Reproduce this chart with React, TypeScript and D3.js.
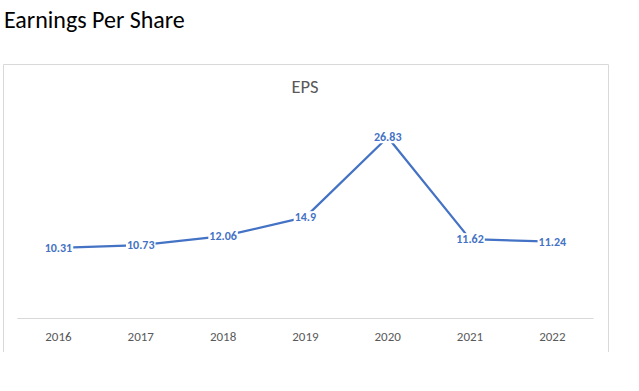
import React, { useEffect, useRef } from 'react'
import { select, scaleBand, scaleLinear, line } from 'd3'

const years = ['2016', '2017', '2018', '2019', '2020', '2021', '2022']
const eps = [10.31, 10.73, 12.06, 14.9, 26.83, 11.62, 11.24]
const epsLabels = ['10.31', '10.73', '12.06', '14.9', '26.83', '11.62', '11.24']

const FONT = 'Calibri, Carlito, Lato, sans-serif'
const BLUE = '#4472C4'

function App() {
  const ref = useRef<SVGSVGElement>(null)

  useEffect(() => {
    const svg = select(ref.current)
    svg.selectAll('*').remove()

    // page heading
    svg.append('text')
      .attr('x', 4).attr('y', 28)
      .attr('font-family', FONT).attr('font-size', 24)
      .attr('fill', '#000')
      .text('Earnings Per Share')

    // chart frame (bottom edge is cropped in the original)
    svg.append('path')
      .attr('d', 'M3.5,352 V64.5 H608.5 V352')
      .attr('fill', 'none').attr('stroke', '#d9d9d9')

    svg.append('text')
      .attr('x', 305).attr('y', 93)
      .attr('text-anchor', 'middle')
      .attr('font-family', FONT).attr('font-size', 18.5)
      .attr('fill', '#595959')
      .text('EPS')

    const x = scaleBand().domain(years).range([17.3, 593.5])
    const y = scaleLinear().domain([0, 30]).range([317, 116])
    const cx = (d: string) => (x(d) as number) + x.bandwidth() / 2

    // category axis
    svg.append('line')
      .attr('x1', 17.3).attr('x2', 593.5)
      .attr('y1', 318.5).attr('y2', 318.5)
      .attr('stroke', '#d9d9d9')

    svg.append('g')
      .selectAll('text')
      .data(years)
      .join('text')
      .attr('x', d => cx(d)).attr('y', 340.5)
      .attr('text-anchor', 'middle')
      .attr('font-family', FONT).attr('font-size', 13)
      .attr('fill', '#595959')
      .text(d => d)

    const pts = years.map((d, i) => [cx(d), y(eps[i])] as [number, number])

    svg.append('path')
      .attr('d', line()(pts))
      .attr('fill', 'none')
      .attr('stroke', BLUE).attr('stroke-width', 2.25)
      .attr('stroke-linejoin', 'round')

    // data labels sit on the points, masking the line
    const lg = svg.append('g')
    pts.forEach((p, i) => {
      const g = lg.append('g')
      const t = g.append('text')
        .attr('x', p[0]).attr('y', p[1])
        .attr('text-anchor', 'middle')
        .attr('dominant-baseline', 'central')
        .attr('font-family', FONT).attr('font-size', 12)
        .attr('font-weight', 'bold')
        .attr('fill', BLUE)
        .text(epsLabels[i])
      const b = (t.node() as SVGTextElement).getBBox()
      g.insert('rect', 'text')
        .attr('x', b.x - 1).attr('y', b.y + 1)
        .attr('width', b.width + 2).attr('height', b.height - 2)
        .attr('fill', '#fff')
    })
  }, [])

  return (
    <svg ref={ref} width={639} height={391}
      style={{ position: 'absolute', left: 0, top: 0, background: '#fff' }} />
  )
}

export default App
